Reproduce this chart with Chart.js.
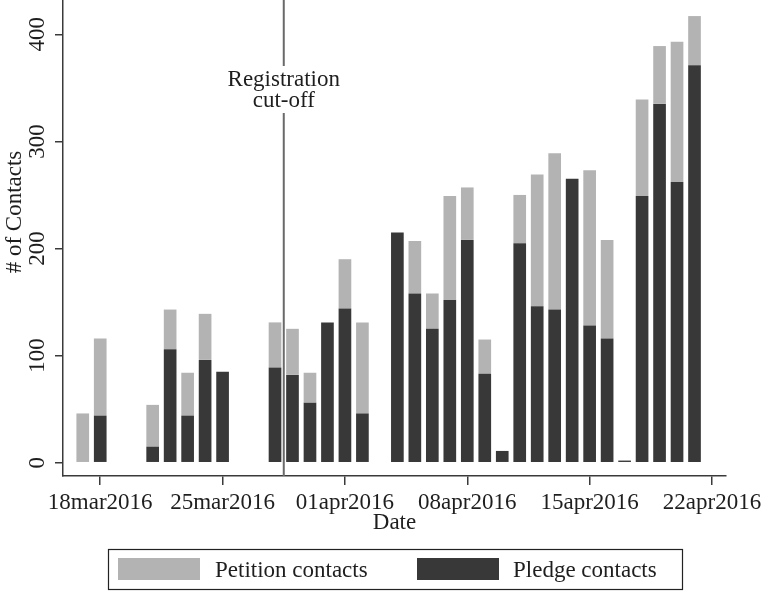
<!DOCTYPE html>
<html>
<head>
<meta charset="utf-8">
<script src="https://cdn.jsdelivr.net/npm/chart.js@4.4.1/dist/chart.umd.min.js"></script>
<style>
  html, body { margin: 0; padding: 0; background: #fff; }
  #wrap { width: 766px; height: 594px; position: relative; }
</style>
</head>
<body>
<div id="wrap"><canvas id="myChart"></canvas></div>
<script>
// daily contacts, 17mar2016 - 21apr2016
var dates = [
  '2016-03-17','2016-03-18','2016-03-19','2016-03-20','2016-03-21','2016-03-22',
  '2016-03-23','2016-03-24','2016-03-25','2016-03-26','2016-03-27','2016-03-28',
  '2016-03-29','2016-03-30','2016-03-31','2016-04-01','2016-04-02','2016-04-03',
  '2016-04-04','2016-04-05','2016-04-06','2016-04-07','2016-04-08','2016-04-09',
  '2016-04-10','2016-04-11','2016-04-12','2016-04-13','2016-04-14','2016-04-15',
  '2016-04-16','2016-04-17','2016-04-18','2016-04-19','2016-04-20','2016-04-21'
];
var pledge = [
  0, 44, 0, 0, 15, 106,
  44, 96, 85, 0, 0, 89,
  82, 56, 131, 144, 46, 0,
  215, 158, 125, 152, 208, 83,
  11, 205, 146, 143, 265, 128,
  116, 2, 249, 335, 262, 371
];
var petition = [
  46, 72, 0, 0, 39, 37,
  40, 43, 0, 0, 0, 42,
  43, 28, 0, 46, 85, 0,
  0, 49, 33, 97, 49, 32,
  0, 45, 123, 146, 0, 145,
  92, 0, 90, 54, 131, 46
];
var xTickDates = ['2016-03-18','2016-03-25','2016-04-01','2016-04-08','2016-04-15','2016-04-22'];
var xTickLabels = ['18mar2016','25mar2016','01apr2016','08apr2016','15apr2016','22apr2016'];
var yTicks = [0, 100, 200, 300, 400];
var cutoffDate = '2016-03-28';   // line sits half a day after this
var origin = '2016-03-18';

function dayNum(d) {
  return Math.round((Date.parse(d) - Date.parse(origin)) / 864e5);
}

var serif = "'Liberation Serif', 'Times New Roman', serif";
var axisColor = '#3a3a3a';
var txtColor = '#1e1e1e';

var extras = {
  id: 'extras',
  afterDraw: function(chart) {
    var c = chart.ctx;
    var x = chart.scales.x, y = chart.scales.y;
    var area = chart.chartArea;
    c.save();

    // y tick labels, rotated like stata
    c.fillStyle = txtColor;
    c.font = '23px ' + serif;
    c.textAlign = 'center';
    c.textBaseline = 'middle';
    y.ticks.forEach(function(t) {
      var py = y.getPixelForValue(t.value);
      c.save();
      c.translate(38, py);
      c.rotate(-Math.PI / 2);
      c.fillText(String(t.value), 0, 0);
      c.restore();
    });

    // y title
    c.save();
    c.translate(15, 212);
    c.rotate(-Math.PI / 2);
    c.fillText('# of Contacts', 0, 0);
    c.restore();

    // registration cut-off line
    var lx = x.getPixelForValue(dayNum(cutoffDate) + 0.5);
    c.strokeStyle = '#6a6a6a';
    c.lineWidth = 2;
    c.beginPath();
    c.moveTo(lx, area.top);
    c.lineTo(lx, 66);
    c.moveTo(lx, 113);
    c.lineTo(lx, area.bottom);
    c.stroke();
    c.fillText('Registration', lx, 80);
    c.fillText('cut-off', lx, 101);

    // legend: petition first, then pledge
    var ds = chart.data.datasets;
    var items = [
      {label: ds[1].label, color: ds[1].backgroundColor, sx: 118, tx: 215},
      {label: ds[0].label, color: ds[0].backgroundColor, sx: 417, tx: 513}
    ];
    c.strokeStyle = '#222';
    c.lineWidth = 1.2;
    c.strokeRect(108.5, 549.5, 574, 40);
    c.textAlign = 'left';
    items.forEach(function(it) {
      c.fillStyle = it.color;
      c.fillRect(it.sx, 558, 82, 22);
      c.fillStyle = txtColor;
      c.fillText(it.label, it.tx, 571);
    });
    c.restore();
  }
};

var ctx = document.getElementById('myChart').getContext('2d');
var myChart = new Chart(ctx, {
  type: 'bar',
  data: {
    datasets: [{
      label: 'Pledge contacts',
      data: dates.map(function(d, i) { return {x: dayNum(d), y: pledge[i]}; }),
      backgroundColor: '#383838',
      borderWidth: 0,
      barPercentage: 0.725,
      categoryPercentage: 1
    }, {
      label: 'Petition contacts',
      data: dates.map(function(d, i) { return {x: dayNum(d), y: petition[i]}; }),
      backgroundColor: '#b3b3b3',
      borderWidth: 0,
      barPercentage: 0.725,
      categoryPercentage: 1
    }]
  },
  options: {
    responsive: true,
    maintainAspectRatio: false,
    animation: false,
    devicePixelRatio: 1,
    layout: { padding: { left: 0, right: 39, top: 0, bottom: 0 } },
    plugins: {
      tooltip: { enabled: false },
      legend: { display: false }
    },
    scales: {
      x: {
        type: 'linear',
        stacked: true,
        offset: false,
        min: -2.13,
        max: 35.8,
        grid: { drawOnChartArea: false, drawTicks: true, tickLength: 9, color: axisColor, lineWidth: 1.5, offset: false },
        border: { color: axisColor, width: 1.5 },
        afterBuildTicks: function(scale) {
          scale.ticks = xTickDates.map(function(d) { return {value: dayNum(d)}; });
        },
        afterFit: function(scale) { scale.height = 118; },
        ticks: {
          autoSkip: false,
          maxRotation: 0,
          padding: 4,
          color: txtColor,
          font: { family: serif, size: 23 },
          callback: function(v) {
            var i = xTickDates.map(dayNum).indexOf(v);
            return i >= 0 ? xTickLabels[i] : '';
          }
        },
        title: {
          display: true,
          text: 'Date',
          color: txtColor,
          font: { family: serif, size: 23 },
          padding: { top: 0, bottom: 57 }
        }
      },
      y: {
        stacked: true,
        min: -12.4,
        max: 432,
        grid: { drawOnChartArea: false, drawTicks: true, tickLength: 8, color: axisColor, lineWidth: 1.5 },
        border: { color: axisColor, width: 1.5 },
        afterBuildTicks: function(scale) {
          scale.ticks = yTicks.map(function(v) { return {value: v}; });
        },
        afterFit: function(scale) { scale.width = 63; },
        ticks: { display: false }
      }
    }
  },
  plugins: [extras]
});
</script>
</body>
</html>
